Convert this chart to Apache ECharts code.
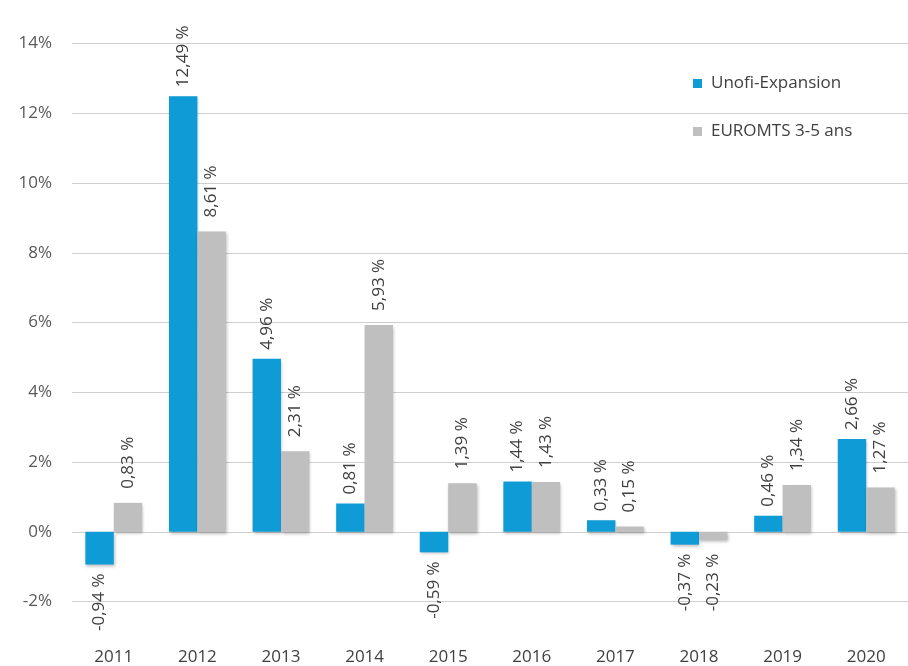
<!DOCTYPE html>
<html>
<head>
<meta charset="utf-8">
<script src="https://cdn.jsdelivr.net/npm/echarts@6/dist/echarts.min.js"></script>
<style>html,body{margin:0;padding:0;background:#fff;}#c{width:908px;height:666px;}</style>
</head>
<body>
<div id="c"></div>
<script>
const categories = ['2011','2012','2013','2014','2015','2016','2017','2018','2019','2020'];
const unofi = [-0.94, 12.49, 4.96, 0.81, -0.59, 1.44, 0.33, -0.37, 0.46, 2.66];
const euromts = [0.83, 8.61, 2.31, 5.93, 1.39, 1.43, 0.15, -0.23, 1.34, 1.27];
const yTicks = [-2, 0, 2, 4, 6, 8, 10, 12, 14];
const seriesNames = ['Unofi-Expansion', 'EUROMTS 3-5 ans'];

const FONT = 'Open Sans';
const fmt = v => v.toFixed(2).replace('.', ',') + ' %';
function items(arr) {
  return arr.map(v => ({
    value: v,
    label: v < 0
      ? { position: 'bottom', align: 'right' }
      : { position: 'top', align: 'left' }
  }));
}
function labelBase(dist) {
  return {
    show: true, rotate: 90, distance: dist, verticalAlign: 'middle',
    fontFamily: FONT, fontSize: 17, color: '#404040',
    formatter: p => fmt(p.value)
  };
}
const shadow = { shadowBlur: 3, shadowColor: 'rgba(0,0,0,0.25)', shadowOffsetX: 1, shadowOffsetY: 2 };

const chart = echarts.init(document.getElementById('c'));
chart.setOption({
  animation: false,
  backgroundColor: '#fff',
  grid: { left: 72, top: 43.5, right: -11, bottom: 64.5, containLabel: false },
  legend: {
    orient: 'vertical', left: 688, top: 70,
    itemWidth: 9, itemHeight: 9, itemGap: 31,
    icon: 'rect',
    textStyle: { fontFamily: FONT, fontSize: 17, color: '#404040', padding: [0, 0, 0, 4] },
    data: seriesNames
  },
  xAxis: {
    type: 'category', data: categories,
    axisLine: { show: false, onZero: false }, axisTick: { show: false },
    axisLabel: { margin: 47, fontFamily: FONT, fontSize: 17, color: '#404040' }
  },
  yAxis: {
    type: 'value', min: yTicks[0], max: yTicks[yTicks.length - 1], interval: 2,
    axisLine: { show: false }, axisTick: { show: false },
    axisLabel: { margin: 20, fontFamily: FONT, fontSize: 17, color: '#595959', formatter: '{value}%' },
    splitLine: { lineStyle: { color: '#CFCFCF', width: 1 } }
  },
  series: [
    { name: seriesNames[0], type: 'bar', data: items(unofi), barGap: '0%', barCategoryGap: '32%',
      itemStyle: Object.assign({ color: '#0E9BD6' }, shadow), label: labelBase(9) },
    { name: seriesNames[1], type: 'bar', data: items(euromts), barGap: '0%', barCategoryGap: '32%',
      itemStyle: Object.assign({ color: '#BFBFBF' }, shadow), label: labelBase(14) }
  ]
});
</script>
</body>
</html>
